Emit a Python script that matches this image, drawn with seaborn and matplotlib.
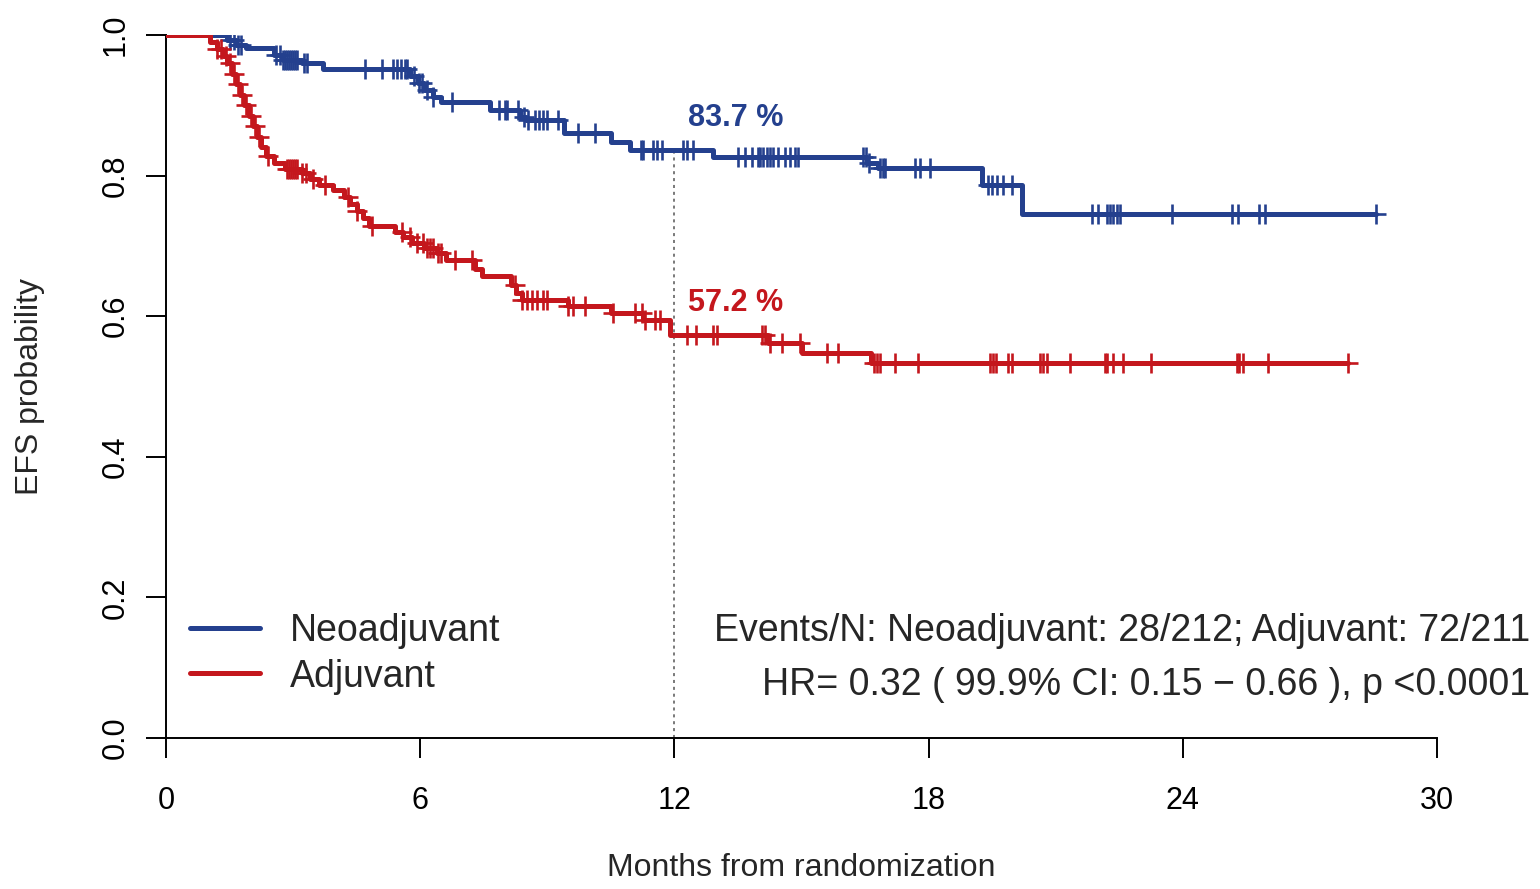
import numpy as np
import pandas as pd
import matplotlib
matplotlib.use("Agg")
import matplotlib.pyplot as plt
import seaborn as sns
from matplotlib.lines import Line2D

# ---------------- data ----------------
arms = ["Neoadjuvant", "Adjuvant"]
arm_colors = ["#24408E", "#C4171D"]

neo_step_times = [0, 1.45, 1.65, 1.9, 2.55, 2.75, 3.2, 3.7, 5.75, 5.95, 6.1, 6.3, 6.5,
                  7.65, 8.35, 8.5, 9.4, 10.5, 10.95, 12.9, 16.55, 16.8, 19.25, 20.2]
neo_step_surv = [1.0, 0.993, 0.986, 0.981, 0.972, 0.965, 0.960, 0.951, 0.942, 0.932, 0.922,
                 0.912, 0.904, 0.894, 0.884, 0.879, 0.860, 0.848, 0.837, 0.827, 0.818,
                 0.811, 0.787, 0.746]
neo_last_time = 28.55
neo_censor_times = [1.5, 1.6, 1.7, 1.78, 2.6, 2.68, 2.75, 2.8, 2.85, 2.9, 2.95, 3.0, 3.05,
                    3.1, 3.25, 3.33, 4.7, 5.1, 5.36, 5.45, 5.55, 5.65, 5.7, 5.85, 5.97,
                    6.05, 6.15, 6.3, 6.75, 7.85, 8.0, 8.05, 8.3, 8.45, 8.55, 8.7, 8.8, 8.9,
                    9.0, 9.25, 9.72, 10.12, 11.2, 11.25, 11.5, 11.6, 11.7, 12.2, 12.3,
                    12.45, 13.5, 13.67, 13.83, 13.97, 14.02, 14.1, 14.18, 14.25, 14.33,
                    14.45, 14.6, 14.73, 14.85, 14.92, 16.45, 16.52, 16.6, 16.85, 16.92,
                    16.97, 17.68, 17.8, 18.03, 19.4, 19.5, 19.62, 19.75, 19.98, 21.85,
                    22.0, 22.2, 22.28, 22.35, 22.45, 22.52, 23.75, 25.15, 25.3, 25.8,
                    25.95, 28.55]

adj_step_times = [0, 1.05, 1.2, 1.35, 1.45, 1.55, 1.65, 1.75, 1.85, 1.95, 2.05, 2.15, 2.25,
                  2.35, 2.55, 2.8, 3.2, 3.4, 3.6, 3.95, 4.2, 4.35, 4.5, 4.65, 4.8, 5.4,
                  5.6, 5.8, 6.1, 6.4, 6.6, 7.3, 7.45, 8.15, 8.25, 8.4, 9.5, 10.5, 11.25,
                  11.9, 14.2, 15.0, 16.65]
adj_step_surv = [1.0, 0.99, 0.98, 0.97, 0.96, 0.945, 0.93, 0.915, 0.90, 0.885, 0.87, 0.855,
                 0.84, 0.828, 0.818, 0.81, 0.803, 0.795, 0.787, 0.78, 0.77, 0.76, 0.75,
                 0.74, 0.728, 0.72, 0.712, 0.704, 0.697, 0.69, 0.68, 0.667, 0.657, 0.645,
                 0.633, 0.623, 0.615, 0.604, 0.595, 0.573, 0.562, 0.548, 0.533]
adj_last_time = 27.9
adj_censor_times = [1.2, 1.3, 1.42, 1.5, 1.6, 1.7, 1.8, 1.9, 2.0, 2.1, 2.2, 2.4, 2.85, 2.9,
                    2.95, 3.0, 3.05, 3.1, 3.2, 3.3, 3.47, 3.75, 4.3, 4.5, 4.86, 5.57, 5.76,
                    5.92, 6.07, 6.15, 6.23, 6.3, 6.42, 6.5, 6.82, 7.22, 8.24, 8.4, 8.52,
                    8.64, 8.76, 8.9, 9.0, 9.5, 9.6, 9.9, 10.55, 11.07, 11.23, 11.3, 11.55,
                    11.65, 12.3, 12.5, 12.9, 13.0, 14.07, 14.14, 14.25, 14.54, 14.96, 15.6,
                    15.86, 16.7, 16.78, 16.85, 17.2, 17.75, 19.45, 19.52, 19.6, 19.87,
                    19.97, 20.63, 20.7, 20.8, 21.34, 22.16, 22.2, 22.35, 22.6, 23.25,
                    25.28, 25.32, 25.42, 26.0, 27.9]

landmark_month = 12
landmark_labels = ["83.7 %", "57.2 %"]
x_ticks = [0, 6, 12, 18, 24, 30]
y_ticks = [0.0, 0.2, 0.4, 0.6, 0.8, 1.0]
y_tick_labels = ["0.0", "0.2", "0.4", "0.6", "0.8", "1.0"]
events_text = "Events/N: Neoadjuvant: 28/212; Adjuvant: 72/211"
hr_text = "HR= 0.32 ( 99.9% CI: 0.15 \u2212 0.66 ), p <0.0001"
x_label = "Months from randomization"
y_label = "EFS probability"


def step_value(times, surv, t):
    idx = np.searchsorted(np.asarray(times), np.asarray(t), side="right") - 1
    return np.asarray(surv)[idx]


# ---------------- build tables ----------------
curve_rows = []
for arm, tt, ss, tend in [(arms[0], neo_step_times, neo_step_surv, neo_last_time),
                          (arms[1], adj_step_times, adj_step_surv, adj_last_time)]:
    for t, s in zip(list(tt) + [tend], list(ss) + [ss[-1]]):
        curve_rows.append({"Months": t, "EFS": s, "Arm": arm})
curves = pd.DataFrame(curve_rows)

cens_rows = []
for arm, tt, ss, ct in [(arms[0], neo_step_times, neo_step_surv, neo_censor_times),
                        (arms[1], adj_step_times, adj_step_surv, adj_censor_times)]:
    for t, s in zip(ct, step_value(tt, ss, ct)):
        cens_rows.append({"Months": t, "EFS": s, "Arm": arm})
censors = pd.DataFrame(cens_rows)

palette = dict(zip(arms, arm_colors))

# ---------------- plot ----------------
sns.set_style("white")
plt.rcParams["font.family"] = ["Liberation Sans", "DejaVu Sans"]

fig = plt.figure(figsize=(15.4, 8.89), dpi=100)
ax = fig.add_axes([166 / 1540, 1 - 738 / 889, 1271 / 1540, 703 / 889])

sns.lineplot(data=curves, x="Months", y="EFS", hue="Arm", palette=palette,
             estimator=None, sort=False, drawstyle="steps-post", linewidth=3.6,
             legend=False, ax=ax, zorder=3)
for arm in arms:
    sub = censors[censors["Arm"] == arm]
    sns.scatterplot(x=sub["Months"], y=sub["EFS"], marker="+", s=190,
                    color=palette[arm], linewidth=1.9, legend=False, ax=ax, zorder=4)

# 12-month landmark
neo12 = float(step_value(neo_step_times, neo_step_surv, [landmark_month])[0])
ax.plot([landmark_month, landmark_month], [0, neo12], linestyle=(0, (2, 2.5)),
        color="#555555", linewidth=1.1, zorder=2)
ax.text(12.32, 0.882, landmark_labels[0], color=arm_colors[0], fontsize=22,
        fontweight="bold", ha="left", va="center")
ax.text(12.32, 0.619, landmark_labels[1], color=arm_colors[1], fontsize=22,
        fontweight="bold", ha="left", va="center")

# axes styling (R base-graphics look)
ax.set_xlim(0, 30)
ax.set_ylim(0, 1)
for side in ["top", "right"]:
    ax.spines[side].set_visible(False)
for side in ["left", "bottom"]:
    ax.spines[side].set_linewidth(1.4)
    ax.spines[side].set_color("black")
ax.spines["left"].set_bounds(0, 1)
ax.spines["bottom"].set_bounds(0, 30)
ax.set_xticks(x_ticks)
ax.set_xticklabels([str(v) for v in x_ticks])
ax.set_yticks(y_ticks)
ax.set_yticklabels(y_tick_labels, rotation=90, va="center")
ax.tick_params(axis="both", direction="out", length=14.4, width=1.4, color="black",
               labelsize=22, labelcolor="black")
ax.tick_params(axis="x", pad=20, bottom=True)
ax.tick_params(axis="y", pad=11, left=True)
ax.grid(False)

ax.set_xlabel(x_label, fontsize=23)
ax.set_ylabel(y_label, fontsize=23)
ax.xaxis.set_label_coords(0.5, (738 - 868) / 703)
ax.xaxis.label.set_va("center")
ax.yaxis.set_label_coords((30 - 166) / 1271, 0.5)
ax.yaxis.label.set_va("center")

# legend
handles = [Line2D([0], [0], color=c, linewidth=3.6) for c in arm_colors]
ax.legend(handles, arms, loc="upper left", bbox_to_anchor=(0.019, 0.178),
          frameon=False, fontsize=27, handlelength=1.87, handletextpad=0.8,
          labelspacing=0.26, borderpad=0, borderaxespad=0)

# summary text
ax.text((1530 - 166) / 1271, (738 - 631) / 703, events_text, transform=ax.transAxes,
        ha="right", va="center", fontsize=27, clip_on=False)
ax.text((1530 - 166) / 1271, (738 - 685) / 703, hr_text, transform=ax.transAxes,
        ha="right", va="center", fontsize=27, clip_on=False)

fig.savefig("out.png", dpi=100)
